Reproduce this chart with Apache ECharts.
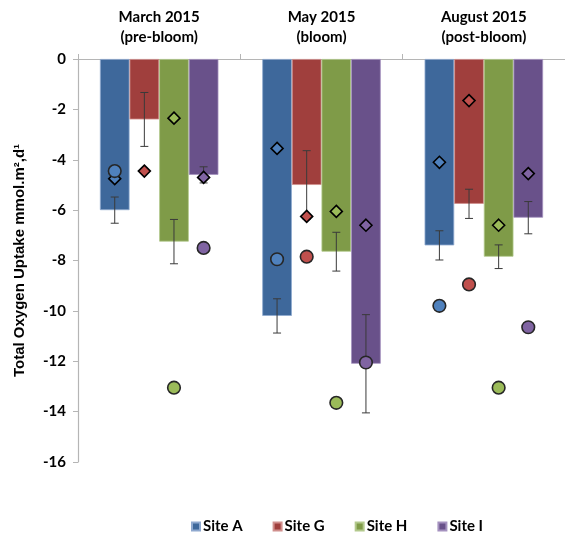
<!DOCTYPE html>
<html>
<head>
<meta charset="utf-8">
<script src="https://cdn.jsdelivr.net/npm/echarts@6/dist/echarts.min.js"></script>
<style>
  html, body { margin: 0; padding: 0; background: #fff; }
  #chart { width: 565px; height: 534px; }
</style>
</head>
<body>
<div id="chart"></div>
<script>
// categories and series
const periods = ["March 2015\n(pre-bloom)", "May 2015\n(bloom)", "August 2015\n(post-bloom)"];
const sites = ["Site A", "Site G", "Site H", "Site I"];

// bar means (one array per site, order = periods)
const siteA = [-6.0, -10.2, -7.4];
const siteG = [-2.4, -5.0, -5.75];
const siteH = [-7.25, -7.65, -7.85];
const siteI = [-4.6, -12.1, -6.3];

// error bar half-lengths
const errA = [0.52, 0.68, 0.58];
const errG = [1.07, 1.36, 0.58];
const errH = [0.88, 0.77, 0.47];
const errI = [0.32, 1.95, 0.64];

// diamond markers
const diamA = [-4.75, -3.55, -4.1];
const diamG = [-4.45, -6.25, -1.65];
const diamH = [-2.35, -6.05, -6.6];
const diamI = [-4.7, -6.6, -4.55];

// circle markers
const circA = [-4.45, -7.95, -9.8];
const circG = [null, -7.85, -8.95];
const circH = [-13.05, -13.65, -13.05];
const circI = [-7.5, -12.05, -10.65];

const yTicks = { min: -16, max: 0, step: 2 };

const barColors = ["#3E689B", "#A03F3D", "#7F9B48", "#69518A"];
const barBorders = ["#8FA9CF", "#D08F8D", "#B3C98D", "#A592BF"];
const markColors = ["#4F81BD", "#C0504D", "#9BBB59", "#8064A2"];

const means = [siteA, siteG, siteH, siteI];
const errs = [errA, errG, errH, errI];
const diams = [diamA, diamG, diamH, diamI];
const circs = [circA, circG, circH, circI];

const GAP = 0.27;
const FONT_C = "Lato";

let myChart = echarts.init(document.getElementById("chart"));

function isNum(v) {
  return v !== null && v !== undefined && v !== "-" && !isNaN(v);
}

// draws error bar + diamond + circle for one site, placed over its bar
function makeRender(j) {
  return function (params, api) {
    let cat = api.value(0);
    let band = api.size([1, 0])[0];
    let barW = band * (1 - GAP) / 4;
    let x = api.coord([cat, 0])[0] + (j - 1.5) * barW;
    let mean = api.value(1);
    let sd = api.value(2);
    let dv = api.value(3);
    let cv = api.value(4);
    let kids = [];
    let yTop = api.coord([cat, mean + sd])[1];
    let yBot = api.coord([cat, mean - sd])[1];
    let cap = 4;
    let ls = { stroke: "#3a3a3a", lineWidth: 1 };
    kids.push({ type: "line", shape: { x1: x, y1: yTop, x2: x, y2: yBot }, style: ls });
    kids.push({ type: "line", shape: { x1: x - cap, y1: yTop, x2: x + cap, y2: yTop }, style: ls });
    kids.push({ type: "line", shape: { x1: x - cap, y1: yBot, x2: x + cap, y2: yBot }, style: ls });
    if (isNum(dv)) {
      let y = api.coord([cat, dv])[1];
      let r = 6;
      kids.push({
        type: "polygon",
        shape: { points: [[x, y - r], [x + r, y], [x, y + r], [x - r, y]] },
        style: { fill: markColors[j], stroke: "#000", lineWidth: 1.6 }
      });
    }
    if (isNum(cv)) {
      let y = api.coord([cat, cv])[1];
      kids.push({
        type: "circle",
        shape: { cx: x, cy: y, r: 6.3 },
        style: { fill: markColors[j], stroke: "#262626", lineWidth: 1.6 }
      });
    }
    return { type: "group", children: kids };
  };
}

let series = [];
sites.forEach(function (name, j) {
  series.push({
    name: name,
    type: "bar",
    data: means[j],
    barGap: "0%",
    barCategoryGap: GAP * 100 + "%",
    itemStyle: { color: barColors[j], borderColor: barBorders[j], borderWidth: 0.8 },
    z: 2
  });
});
sites.forEach(function (name, j) {
  series.push({
    name: name + " markers",
    type: "custom",
    renderItem: makeRender(j),
    encode: { x: 0, y: 1 },
    data: periods.map(function (p, i) {
      return [i, means[j][i], errs[j][i], diams[j][i], circs[j][i]];
    }),
    z: 5,
    silent: true
  });
});

let option = {
  backgroundColor: "#fff",
  animation: false,
  grid: { left: 78, right: -2, top: 59, bottom: 72 },
  legend: {
    data: sites,
    left: 186,
    top: 514,
    icon: "rect",
    itemWidth: 8,
    itemHeight: 8,
    itemGap: 30,
    textStyle: { fontFamily: FONT_C, fontWeight: "bold", fontSize: 15, color: "#000", padding: [0, 0, 0, -2] }
  },
  xAxis: {
    type: "category",
    data: periods,
    position: "top",
    axisLine: { lineStyle: { color: "#b5b5b5", width: 1.2 } },
    axisTick: { show: true, length: 5, lineStyle: { color: "#b5b5b5" } },
    axisLabel: {
      interval: 0,
      margin: 12,
      lineHeight: 20,
      fontFamily: FONT_C,
      fontWeight: "bold",
      fontSize: 15,
      color: "#000"
    }
  },
  yAxis: {
    type: "value",
    min: yTicks.min,
    max: yTicks.max,
    interval: yTicks.step,
    name: "Total Oxygen Uptake mmol.m²,d¹",
    nameLocation: "middle",
    nameGap: 51,
    nameRotate: 90,
    nameTextStyle: { fontFamily: "Liberation Sans", fontWeight: "bold", fontSize: 15, color: "#000" },
    splitLine: { show: false },
    axisLine: { show: true, lineStyle: { color: "#b5b5b5", width: 1.2 } },
    axisTick: { show: true, length: 5, lineStyle: { color: "#b5b5b5" } },
    axisLabel: { margin: 12, fontFamily: FONT_C, fontWeight: "bold", fontSize: 15, color: "#000" }
  },
  series: series
};

myChart.setOption(option);
</script>
</body>
</html>
